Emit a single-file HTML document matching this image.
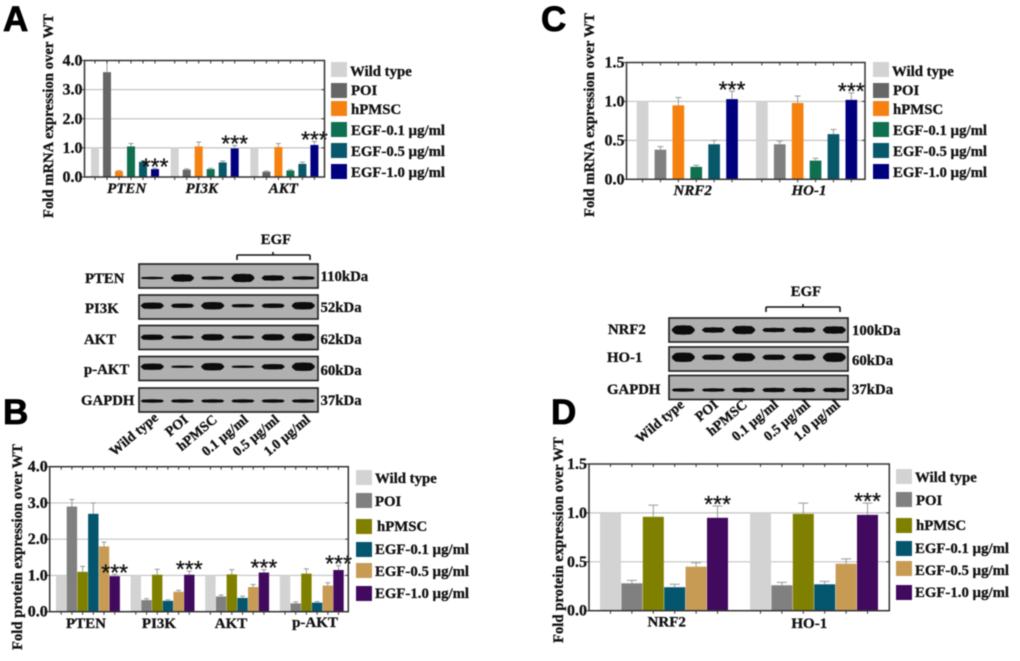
<!DOCTYPE html>
<html lang="en">
<head>
<meta charset="utf-8">
<title>Gene and protein expression figure</title>
<style>
html,body{margin:0;padding:0;background:#fff;width:1020px;height:661px;overflow:hidden}
svg{display:block;filter:blur(.5px)}
text{font-family:"Liberation Serif",serif;font-weight:bold;fill:#111;stroke:#111;stroke-width:.3}
.letter{font-family:"Liberation Sans",sans-serif;font-size:35px;fill:#000;stroke:#000;stroke-width:.8}
.leg{font-size:14.8px}
.blot-label{font-size:14.8px}
.rot{font-size:14px}
.frame{fill:#b0b0b0;stroke:#1c1c1c;stroke-width:1.6}
.bracket{fill:none;stroke:#111;stroke-width:1.6}
</style>
</head>
<body>
<svg id="fig" xmlns="http://www.w3.org/2000/svg" width="1020" height="661" viewBox="0 0 1020 661">
  <rect width="1020" height="661" fill="#fff"/>
  <text class="letter" x="3" y="31">A</text>
  <text class="letter" x="3" y="424">B</text>
  <text class="letter" x="541" y="31">C</text>
  <text class="letter" x="551" y="424">D</text>

  <g>
    <rect x="331" y="62" width="16" height="15" fill="#d3d3d3"/><text class="leg" x="350" y="76">Wild type</text>
    <rect x="331" y="83" width="16" height="15" fill="#666"/><text class="leg" x="351" y="95">POI</text>
    <rect x="331" y="101" width="16" height="15" fill="#f58210"/><text class="leg" x="351" y="114">hPMSC</text>
    <rect x="331" y="122" width="16" height="15" fill="#0e7050"/><text class="leg" x="351" y="135">EGF-0.1 µg/ml</text>
    <rect x="331" y="143" width="16" height="15" fill="#07586a"/><text class="leg" x="351" y="156">EGF-0.5 µg/ml</text>
    <rect x="331" y="164" width="16" height="15" fill="#00007f"/><text class="leg" x="351" y="177">EGF-1.0 µg/ml</text>
  </g>
  <g>
    <rect x="873" y="62" width="16" height="15" fill="#d3d3d3"/><text class="leg" x="892" y="76">Wild type</text>
    <rect x="873" y="83" width="16" height="15" fill="#666"/><text class="leg" x="893" y="95">POI</text>
    <rect x="873" y="101" width="16" height="15" fill="#f58210"/><text class="leg" x="893" y="114">hPMSC</text>
    <rect x="873" y="122" width="16" height="15" fill="#0e7050"/><text class="leg" x="893" y="135">EGF-0.1 µg/ml</text>
    <rect x="873" y="143" width="16" height="15" fill="#07586a"/><text class="leg" x="893" y="156">EGF-0.5 µg/ml</text>
    <rect x="873" y="164" width="16" height="15" fill="#00007f"/><text class="leg" x="893" y="177">EGF-1.0 µg/ml</text>
  </g>
  <g>
    <rect x="356" y="470" width="16" height="15" fill="#d3d3d3"/><text class="leg" x="375" y="483">Wild type</text>
    <rect x="356" y="493" width="16" height="15" fill="#808080"/><text class="leg" x="375" y="506">POI</text>
    <rect x="356" y="519" width="16" height="15" fill="#808000"/><text class="leg" x="377" y="531">hPMSC</text>
    <rect x="356" y="542" width="16" height="15" fill="#04566e"/><text class="leg" x="375" y="554">EGF-0.1 µg/ml</text>
    <rect x="356" y="563" width="16" height="15" fill="#c89b55"/><text class="leg" x="375" y="576">EGF-0.5 µg/ml</text>
    <rect x="356" y="586" width="16" height="15" fill="#420a5e"/><text class="leg" x="375" y="598">EGF-1.0 µg/ml</text>
  </g>
  <g>
    <rect x="896" y="469" width="16" height="15" fill="#d3d3d3"/><text class="leg" x="915" y="482">Wild type</text>
    <rect x="896" y="492" width="16" height="15" fill="#808080"/><text class="leg" x="916" y="505">POI</text>
    <rect x="896" y="518" width="16" height="15" fill="#808000"/><text class="leg" x="916" y="530">hPMSC</text>
    <rect x="896" y="541" width="16" height="15" fill="#04566e"/><text class="leg" x="915" y="553">EGF-0.1 µg/ml</text>
    <rect x="896" y="561" width="16" height="15" fill="#c89b55"/><text class="leg" x="915" y="575">EGF-0.5 µg/ml</text>
    <rect x="896" y="585" width="16" height="15" fill="#420a5e"/><text class="leg" x="915" y="597">EGF-1.0 µg/ml</text>
  </g>

  <g>
    <rect class="frame" x="139" y="264" width="179" height="24"/>
    <rect class="frame" x="139" y="295" width="179" height="24"/>
    <rect class="frame" x="139" y="325.5" width="179" height="24"/>
    <rect class="frame" x="139" y="356.5" width="179" height="24"/>
    <rect class="frame" x="139" y="388" width="179" height="24"/>
    <text class="blot-label" x="85" y="283">PTEN</text>
    <text class="blot-label" x="85" y="313">PI3K</text>
    <text class="blot-label" x="84" y="344">AKT</text>
    <text class="blot-label" x="84" y="374">p-AKT</text>
    <text class="blot-label" x="81" y="405">GAPDH</text>
    <text class="blot-label" x="320.5" y="281">110kDa</text>
    <text class="blot-label" x="320.5" y="312">52kDa</text>
    <text class="blot-label" x="320.5" y="344">62kDa</text>
    <text class="blot-label" x="320.5" y="375">60kDa</text>
    <text class="blot-label" x="320.5" y="405">37kDa</text>
    <text class="blot-label" x="276" y="244" text-anchor="middle">EGF</text>
    <path class="bracket" d="M237 260V256Q237 255 238 255H309Q310 255 310 256V260M273 255V252"/>
    <text class="rot" text-anchor="end" transform="translate(159 419) rotate(-40)">Wild type</text>
    <text class="rot" text-anchor="end" transform="translate(189 421) rotate(-40)">POI</text>
    <text class="rot" text-anchor="end" transform="translate(218 421) rotate(-40)">hPMSC</text>
    <text class="rot" text-anchor="end" transform="translate(249 421) rotate(-40)">0.1 µg/ml</text>
    <text class="rot" text-anchor="end" transform="translate(280 421) rotate(-40)">0.5 µg/ml</text>
    <text class="rot" text-anchor="end" transform="translate(311 421) rotate(-40)">1.0 µg/ml</text>
  </g>

  <g>
    <rect class="frame" x="669" y="318" width="179" height="24"/>
    <rect class="frame" x="669" y="347" width="179" height="24"/>
    <rect class="frame" x="669" y="375.5" width="179" height="24"/>
    <text class="blot-label" x="608" y="334">NRF2</text>
    <text class="blot-label" x="607" y="362">HO-1</text>
    <text class="blot-label" x="607" y="394">GAPDH</text>
    <text class="blot-label" x="852" y="335">100kDa</text>
    <text class="blot-label" x="852" y="365">60kDa</text>
    <text class="blot-label" x="852" y="394">37kDa</text>
    <text class="blot-label" x="806" y="296" text-anchor="middle">EGF</text>
    <path class="bracket" d="M766 312V308Q766 307 767 307H839Q840 307 840 308V312M803 307V304"/>
    <text class="rot" text-anchor="end" transform="translate(685 406) rotate(-40)">Wild type</text>
    <text class="rot" text-anchor="end" transform="translate(719 406) rotate(-40)">POI</text>
    <text class="rot" text-anchor="end" transform="translate(748 406) rotate(-40)">hPMSC</text>
    <text class="rot" text-anchor="end" transform="translate(779 406) rotate(-40)">0.1 µg/ml</text>
    <text class="rot" text-anchor="end" transform="translate(811 406) rotate(-40)">0.5 µg/ml</text>
    <text class="rot" text-anchor="end" transform="translate(841 406) rotate(-40)">1.0 µg/ml</text>
  </g>
</svg>

<script>
// Panel A: mRNA, one row per gene, series order WT, POI, hPMSC, EGF 0.1, 0.5, 1.0
const aCategories = ["PTEN", "PI3K", "AKT"];
const aTicks = ["0.0", "1.0", "2.0", "3.0", "4.0"];
const aValues = [
  [1.0, 3.6, 0.2, 1.05, 0.52, 0.27],
  [1.0, 0.25, 1.05, 0.27, 0.5, 0.98],
  [1.0, 0.18, 1.03, 0.22, 0.45, 1.1]
];
const aErrors = [
  [0, 0.4, 0.02, 0.1, 0.04, 0.03],
  [0, 0.03, 0.15, 0.03, 0.05, 0.1],
  [0, 0.02, 0.12, 0.03, 0.06, 0.12]
];

// Panel C: mRNA
const cCategories = ["NRF2", "HO-1"];
const cTicks = ["0.0", "0.5", "1.0", "1.5"];
const cValues = [
  [1.0, 0.38, 0.95, 0.16, 0.45, 1.03],
  [1.0, 0.45, 0.98, 0.24, 0.58, 1.02]
];
const cErrors = [
  [0, 0.04, 0.1, 0.02, 0.05, 0.1],
  [0, 0.04, 0.09, 0.03, 0.06, 0.09]
];

// Panel B: protein
const bCategories = ["PTEN", "PI3K", "AKT", "p-AKT"];
const bTicks = ["0.0", "1.0", "2.0", "3.0", "4.0"];
const bValues = [
  [1.0, 2.9, 1.1, 2.7, 1.8, 0.98],
  [1.0, 0.32, 1.02, 0.3, 0.55, 1.02],
  [1.0, 0.42, 1.03, 0.38, 0.68, 1.08],
  [1.0, 0.23, 1.05, 0.25, 0.72, 1.15]
];
const bErrors = [
  [0, 0.2, 0.15, 0.3, 0.12, 0.05],
  [0, 0.04, 0.15, 0.03, 0.04, 0.1],
  [0, 0.04, 0.13, 0.05, 0.07, 0.08],
  [0, 0.04, 0.13, 0.03, 0.08, 0.12]
];

// Panel D: protein
const dCategories = ["NRF2", "HO-1"];
const dTicks = ["0.0", "0.5", "1.0", "1.5"];
const dValues = [
  [1.0, 0.28, 0.96, 0.24, 0.45, 0.95],
  [1.0, 0.26, 0.99, 0.27, 0.48, 0.98]
];
const dErrors = [
  [0, 0.03, 0.12, 0.03, 0.04, 0.12],
  [0, 0.03, 0.11, 0.03, 0.05, 0.12]
];

// Blot band strengths (relative band thickness per lane)
const blotLeftPten = [2, 7, 3, 8, 5, 3];
const blotLeftPi3k = [6, 4, 7, 3, 4, 7];
const blotLeftAkt = [5, 3, 6, 3, 6, 7];
const blotLeftPakt = [6, 2, 7, 2, 5, 8];
const blotLeftGapdh = [3, 3, 3, 3, 3, 3];
const blotRightNrf2 = [9, 5, 8, 4, 5, 7];
const blotRightHo1 = [9, 5, 8, 5, 6, 9];
const blotRightGapdh = [3, 3, 4, 4, 4, 4];

const svgNS = "http://www.w3.org/2000/svg";
const fig = document.getElementById("fig");
const colorsMrna = ["#d3d3d3", "#666666", "#f58210", "#0e7050", "#07586a", "#00007f"];
const colorsMrnaC = ["#d3d3d3", "#808080", "#f58210", "#0e7050", "#07586a", "#00007f"];
const colorsProtein = ["#d3d3d3", "#808080", "#808000", "#04566e", "#c89b55", "#420a5e"];
const seriesNames = ["wild-type", "poi", "hpmsc", "egf-0-1", "egf-0-5", "egf-1-0"];

function make(tag, attrs, parent, content) {
  const el = document.createElementNS(svgNS, tag);
  for (const k in attrs) el.setAttribute(k, attrs[k]);
  if (content !== undefined) el.textContent = content;
  parent.appendChild(el);
  return el;
}

function drawChart(cfg) {
  const root = make("g", {}, fig);
  
  
  const yMax = Number(cfg.ticks[cfg.ticks.length - 1]);
  const yScale = v => cfg.bottom - (v / yMax) * (cfg.bottom - cfg.top);
  const xScale = (g, s) => cfg.groupX(g) + s * cfg.step;

  cfg.ticks.forEach(label => {
    const v = Number(label);
    const y = yScale(v);
    if (v > 0 && v < yMax) {
      const grid = make("line", {x1: cfg.left, x2: cfg.right, y1: y, y2: y, stroke: "#c4c4c4", "stroke-width": 1.2}, root);
      
      
    }
    const tr = make("line", {x1: cfg.right - 3, x2: cfg.right, y1: y, y2: y, stroke: "#333", "stroke-width": 1}, root);
    
    
    const tl = make("line", {x1: cfg.left - 3, x2: cfg.left, y1: y, y2: y, stroke: "#333", "stroke-width": 1}, root);
    
    
    const lab = make("text", {x: cfg.left - 2, y: y + 5, "text-anchor": "end", "font-size": 16}, root, label);
    
    
  });

  cfg.values.forEach((row, g) => {
    row.forEach((v, s) => {
      const x = xScale(g, s);
      const cx = x + cfg.barW / 2;
      const yTop = yScale(v);
      const bar = make("rect", {x: x, y: yTop, width: cfg.barW, height: cfg.bottom - yTop, fill: cfg.colors[s]}, root);
      
      
      const err = cfg.errors[g][s];
      if (err > 0) {
        const yErr = yScale(v + err);
        const whisker = make("path", {d: "M" + cx + " " + yTop + "V" + yErr + "M" + (cx - cfg.capW / 2) + " " + yErr + "H" + (cx + cfg.capW / 2), stroke: "#9a9a9a", "stroke-width": 1, fill: "none"}, root);
        
        
      }
      const t1 = make("line", {x1: cx, x2: cx, y1: cfg.bottom, y2: cfg.bottom + 3, stroke: "#333", "stroke-width": 1}, root);
      
      
      const t2 = make("line", {x1: cx, x2: cx, y1: cfg.top, y2: cfg.top + 3, stroke: "#333", "stroke-width": 1}, root);
      
      
    });
    const last = row.length - 1;
    const starTop = yScale(row[last] + cfg.errors[g][last]);
    const stars = make("text", {x: xScale(g, last) + cfg.barW / 2, y: starTop - 7 + 13, "text-anchor": "middle", "font-size": 23, style: 'font-family:"Liberation Sans",sans-serif;font-weight:normal'}, root, "***");
    
    
  });

  const box = make("rect", {x: cfg.left, y: cfg.top, width: cfg.right - cfg.left, height: cfg.bottom - cfg.top, fill: "none", stroke: "#333", "stroke-width": 1.5}, root);
  
  

  cfg.categories.forEach((c, g) => {
    const attrs = {x: cfg.catX[g], y: cfg.catY[g], "text-anchor": "middle", "font-size": 15};
    if (cfg.italic) attrs["font-style"] = "italic";
    const lab = make("text", attrs, root, c);
    
    
  });

  const title = make("text", {transform: "translate(" + cfg.titleX + " " + cfg.titleY + ") rotate(-90)", "font-size": 14.6, textLength: cfg.titleLen, lengthAdjust: "spacing"}, root, cfg.title);
  
  
}

drawChart({name: "chart-a", categories: aCategories, ticks: aTicks, values: aValues, errors: aErrors, colors: colorsMrna,
  left: 84.5, right: 324.5, top: 60.5, bottom: 177, barW: 8, capW: 5, step: 12,
  groupX: g => 91 + g * 79.7, catX: [126.7, 201.7, 283.3], catY: [193, 193, 193], italic: true,
  title: "Fold mRNA expression over WT", titleX: 53, titleY: 218, titleLen: 204});

drawChart({name: "chart-c", categories: cCategories, ticks: cTicks, values: cValues, errors: cErrors, colors: colorsMrnaC,
  left: 626.5, right: 865, top: 62.5, bottom: 179.3, barW: 11.7, capW: 6, step: 17.9,
  groupX: g => 636.7 + g * 119.3, catX: [692.7, 809], catY: [195, 195], italic: true,
  title: "Fold mRNA expression over WT", titleX: 594, titleY: 217, titleLen: 204});

drawChart({name: "chart-b", categories: bCategories, ticks: bTicks, values: bValues, errors: bErrors, colors: colorsProtein,
  left: 49.7, right: 348.3, top: 466.7, bottom: 611.7, barW: 10.4, capW: 5, step: 10.7,
  groupX: g => 56 + g * 74.6, catX: [86, 159, 231, 315], catY: [628, 628, 628, 627], italic: false,
  title: "Fold protein expression over WT", titleX: 22, titleY: 650, titleLen: 206});

drawChart({name: "chart-d", categories: dCategories, ticks: dTicks, values: dValues, errors: dErrors, colors: colorsProtein,
  left: 589, right: 889.3, top: 464, bottom: 610.7, barW: 21, capW: 10, step: 21.4,
  groupX: g => 600 + g * 150, catX: [666.7, 809.3], catY: [626.7, 628], italic: false,
  title: "Fold protein expression over WT", titleX: 563, titleY: 643, titleLen: 206});

function drawBands(strengths, firstLane, bandY, name) {
  strengths.forEach((strength, i) => {
    const cx = firstLane + i * 30.2;
    const band = make("ellipse", {cx: cx, cy: bandY, rx: 11.5, ry: strength / 2 + 0.2, fill: "#0c0c0c"}, fig);
    
    
    const core = make("rect", {x: cx - 10.5, y: bandY - strength / 2, width: 21, height: strength, fill: "#0c0c0c", rx: strength / 2}, fig);
    
    
  });
}
drawBands(blotLeftPten, 152.3, 278, "pten");
drawBands(blotLeftPi3k, 152.3, 305.7, "pi3k");
drawBands(blotLeftAkt, 152.3, 337.3, "akt");
drawBands(blotLeftPakt, 152.3, 366.7, "p-akt");
drawBands(blotLeftGapdh, 152.3, 401, "gapdh-left");
drawBands(blotRightNrf2, 683.3, 330, "nrf2");
drawBands(blotRightHo1, 683.3, 357.3, "ho-1");
drawBands(blotRightGapdh, 683.3, 390, "gapdh-right");
</script>
</body>
</html>
